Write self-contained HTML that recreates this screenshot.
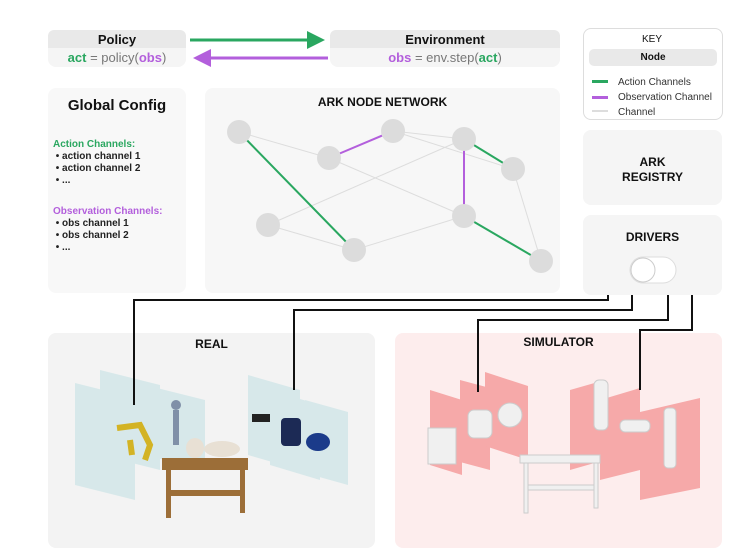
<!DOCTYPE html>
<html><head><meta charset="utf-8"><style>
body{margin:0;width:746px;height:553px;background:#fff;font-family:"Liberation Sans",sans-serif;position:relative;overflow:hidden}
.b{position:absolute;border-radius:8px}
.t{position:absolute;font-weight:bold;color:#111;text-align:center}
</style></head><body>
<div class="b" style="left:48px;top:30px;width:138px;height:37px;background:#f5f5f5"></div>
<div class="b" style="left:48px;top:30px;width:138px;height:18px;background:#e9e9e9;border-radius:6px 6px 0 0"></div>
<div class="t" style="left:48px;top:32px;width:138px;font-size:13px">Policy</div>
<div class="t" style="left:48px;top:50px;width:138px;font-size:13px;font-weight:normal;color:#777"><b style="color:#2aa760">act</b> = policy(<b style="color:#b35fdc">obs</b>)</div>
<div class="b" style="left:330px;top:30px;width:230px;height:37px;background:#f5f5f5"></div>
<div class="b" style="left:330px;top:30px;width:230px;height:18px;background:#e9e9e9;border-radius:6px 6px 0 0"></div>
<div class="t" style="left:330px;top:32px;width:230px;font-size:13px">Environment</div>
<div class="t" style="left:330px;top:50px;width:230px;font-size:13px;font-weight:normal;color:#777"><b style="color:#b35fdc">obs</b> = env.step(<b style="color:#2aa760">act</b>)</div>
<div class="b" style="left:583px;top:28px;width:138px;height:90px;border:1px solid #ddd;background:#fff"></div>
<div class="t" style="left:583px;top:34px;width:138px;font-size:10px;font-weight:normal">KEY</div>
<div class="b" style="left:589px;top:49px;width:128px;height:17px;background:#e9e9e9;border-radius:5px"></div>
<div class="t" style="left:589px;top:52px;width:128px;font-size:10px">Node</div>
<div style="position:absolute;left:592px;top:80px;width:16px;height:3px;background:#2aa760"></div>
<div style="position:absolute;left:592px;top:96px;width:16px;height:3px;background:#b35fdc"></div>
<div style="position:absolute;left:592px;top:110px;width:16px;height:2px;background:#ddd"></div>
<div style="position:absolute;left:618px;top:75px;font-size:10px;color:#333;line-height:15px">Action Channels<br>Observation Channel<br>Channel</div>
<div class="b" style="left:48px;top:88px;width:138px;height:205px;background:#f8f8f8"></div>
<div class="t" style="left:48px;top:97px;width:138px;font-size:15px">Global Config</div>
<div style="position:absolute;left:53px;top:139px;font-size:10px;line-height:12px;color:#222;font-weight:bold">
<div style="color:#2aa760">Action Channels:</div>
<div>&nbsp;• action channel 1</div><div>&nbsp;• action channel 2</div><div>&nbsp;• ...</div>
<div style="height:19px"></div>
<div style="color:#b35fdc">Observation Channels:</div>
<div>&nbsp;• obs channel 1</div><div>&nbsp;• obs channel 2</div><div>&nbsp;• ...</div></div>
<div class="b" style="left:205px;top:88px;width:355px;height:205px;background:#f7f7f7"></div>
<div class="t" style="left:205px;top:95px;width:355px;font-size:12px">ARK NODE NETWORK</div>
<div class="b" style="left:583px;top:130px;width:139px;height:75px;background:#f5f5f5"></div>
<div class="t" style="left:583px;top:155px;width:139px;font-size:12px;line-height:15px">ARK<br>REGISTRY</div>
<div class="b" style="left:583px;top:215px;width:139px;height:80px;background:#f5f5f5"></div>
<div class="t" style="left:583px;top:230px;width:139px;font-size:12px">DRIVERS</div>
<div class="b" style="left:48px;top:333px;width:327px;height:215px;background:#f3f3f3"></div>
<div class="t" style="left:48px;top:337px;width:327px;font-size:12px">REAL</div>
<div class="b" style="left:395px;top:333px;width:327px;height:215px;background:#fdeded"></div>
<div class="t" style="left:395px;top:335px;width:327px;font-size:12px">SIMULATOR</div>
<svg style="position:absolute;left:0;top:0" width="746" height="553">
<defs><marker id="g" markerWidth="6" markerHeight="6" refX="5" refY="3" orient="auto"><path d="M0,0L6,3L0,6z" fill="#2aa760"/></marker>
<marker id="p" markerWidth="6" markerHeight="6" refX="5" refY="3" orient="auto"><path d="M0,0L6,3L0,6z" fill="#b35fdc"/></marker></defs>
<line x1="190" y1="40" x2="322" y2="40" stroke="#2aa760" stroke-width="3" marker-end="url(#g)"/>
<line x1="328" y1="58" x2="196" y2="58" stroke="#b35fdc" stroke-width="3" marker-end="url(#p)"/>
<g stroke="#ddd" stroke-width="1">
<line x1="239" y1="132" x2="329" y2="158"/><line x1="329" y1="158" x2="464" y2="216"/>
<line x1="393" y1="131" x2="464" y2="139"/><line x1="393" y1="131" x2="513" y2="169"/>
<line x1="464" y1="139" x2="268" y2="225"/><line x1="268" y1="225" x2="354" y2="250"/>
<line x1="354" y1="250" x2="464" y2="216"/><line x1="513" y1="169" x2="541" y2="261"/></g>
<g stroke-width="2"><line x1="239" y1="132" x2="354" y2="250" stroke="#2aa760"/>
<line x1="329" y1="158" x2="393" y2="131" stroke="#b35fdc"/>
<line x1="464" y1="139" x2="513" y2="169" stroke="#2aa760"/>
<line x1="464" y1="139" x2="464" y2="216" stroke="#b35fdc"/>
<line x1="464" y1="216" x2="541" y2="261" stroke="#2aa760"/></g>
<g fill="#dcdcdc"><circle cx="239" cy="132" r="12"/><circle cx="329" cy="158" r="12"/><circle cx="393" cy="131" r="12"/><circle cx="464" cy="139" r="12"/><circle cx="513" cy="169" r="12"/><circle cx="268" cy="225" r="12"/><circle cx="354" cy="250" r="12"/><circle cx="464" cy="216" r="12"/><circle cx="541" cy="261" r="12"/></g>
<rect x="630" y="257" width="46" height="26" rx="13" fill="#fff" stroke="#ddd"/><circle cx="643" cy="270" r="12" fill="#fff" stroke="#ccc"/>
<g fill="#d7e8ea"><polygon points="75,383 135,398 135,500 75,485"/><polygon points="100,370 160,385 160,470 100,455"/><polygon points="145,385 205,400 205,470 145,455"/>
<polygon points="248,375 300,390 300,470 248,455"/><polygon points="270,390 320,405 320,480 270,465"/><polygon points="305,400 348,412 348,485 305,473"/></g>
<g fill="#f6a9a9"><polygon points="430,390 462,400 462,475 430,465"/><polygon points="460,380 490,388 490,470 460,462"/><polygon points="485,372 528,386 528,460 485,446"/>
<polygon points="570,390 605,380 605,460 570,470"/><polygon points="600,400 640,388 640,470 600,480"/><polygon points="640,412 700,398 700,488 640,500"/></g>
<g fill="#9c6e38"><rect x="162" y="458" width="86" height="12"/><rect x="166" y="468" width="5" height="50"/><rect x="240" y="468" width="5" height="45"/><rect x="170" y="490" width="72" height="6"/></g>
<ellipse cx="222" cy="449" rx="18" ry="8" fill="#e8e0d4"/><ellipse cx="195" cy="448" rx="9" ry="10" fill="#e8e0d4"/>
<path d="M117,428 L140,425 L150,445 L145,460 M130,440 L132,455" stroke="#d3b324" stroke-width="6" fill="none"/>
<circle cx="176" cy="405" r="5" fill="#8090a8"/><line x1="176" y1="410" x2="176" y2="445" stroke="#8090a8" stroke-width="6"/>
<rect x="252" y="414" width="18" height="8" fill="#222"/><rect x="281" y="418" width="20" height="28" rx="4" fill="#1c2a55"/><ellipse cx="318" cy="442" rx="12" ry="9" fill="#1b3b8a"/>
<g fill="#f0f0f0" stroke="#ccc"><rect x="428" y="428" width="28" height="36"/><rect x="468" y="410" width="24" height="28" rx="6"/><circle cx="510" cy="415" r="12"/>
<rect x="520" y="455" width="80" height="8"/><rect x="524" y="463" width="4" height="50"/><rect x="594" y="463" width="4" height="45"/><rect x="528" y="485" width="66" height="5"/>
<rect x="594" y="380" width="14" height="50" rx="5"/><rect x="620" y="420" width="30" height="12" rx="5"/><rect x="664" y="408" width="12" height="60" rx="4"/></g>
<g stroke="#111" stroke-width="2" fill="none">
<polyline points="608,295 608,300 134,300 134,405"/>
<polyline points="632,295 632,310 294,310 294,390"/>
<polyline points="668,295 668,320 478,320 478,392"/>
<polyline points="692,295 692,330 640,330 640,390"/></g>
</svg>
</body></html>
